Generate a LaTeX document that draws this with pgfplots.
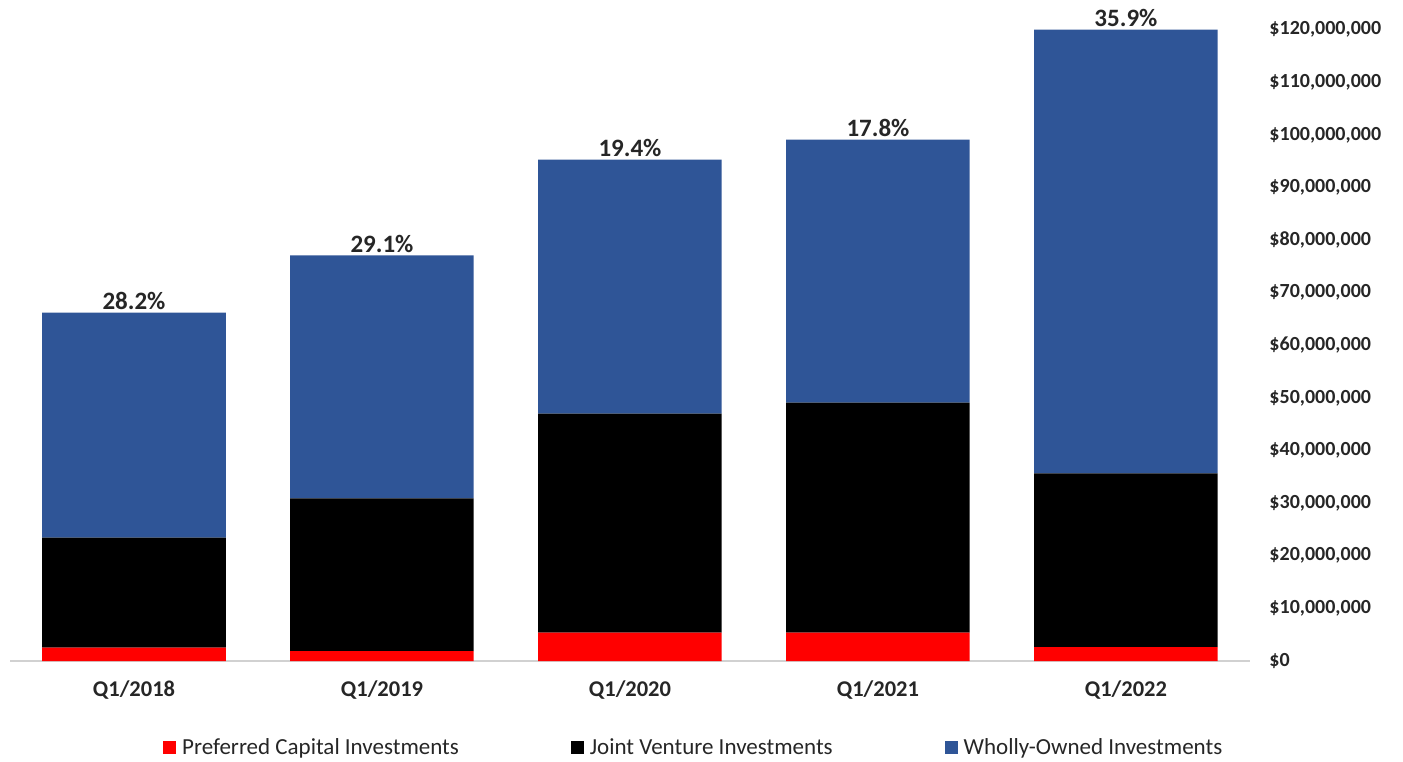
\documentclass[border=0pt]{standalone}
\usepackage{fontspec}
\setmainfont{Carlito}
\usepackage{pgfplots}
\pgfplotsset{compat=1.18}
\definecolor{wblue}{RGB}{47,85,151}
\definecolor{pred}{RGB}{255,0,0}
\begin{document}
\begin{tikzpicture}[x=1pt,y=1pt]
\path[use as bounding box] (0,0) rectangle (1403,761);
\begin{axis}[
  at={(10pt,100pt)}, anchor=south west,
  scale only axis, width=1240pt, height=631.4pt,
  xmin=-0.5, xmax=4.5, ymin=0, ymax=120000000,
  ybar stacked, bar width=0.74,
  xtick={0,1,2,3,4},
  xticklabels={Q1/2018,Q1/2019,Q1/2020,Q1/2021,Q1/2022},
  ytick={0,10000000,20000000,30000000,40000000,50000000,60000000,70000000,80000000,90000000,100000000,110000000,120000000},
  yticklabels={{\$0},{\$10,000,000},{\$20,000,000},{\$30,000,000},{\$40,000,000},{\$50,000,000},{\$60,000,000},{\$70,000,000},{\$80,000,000},{\$90,000,000},{\$100,000,000},{\$110,000,000},{\$120,000,000}},
  axis y line*=right, axis x line*=bottom,
  y axis line style={draw=none},
  x axis line style={draw=black!18, line width=1.3pt, -},
  major tick length=0pt,
  yticklabel style={anchor=west, xshift=16pt, font=\fontsize{20}{23}\selectfont\bfseries, text=black!85},
  xticklabel style={yshift=-16pt, font=\fontsize{22.5}{26}\selectfont\bfseries, text=black!85},
  scaled y ticks=false,
  clip=false,
  legend style={at={(axis description cs:0.1234,-0.1363)}, anchor=west, draw=none, fill=none,
    legend columns=-1, inner sep=0pt,
    font=\fontsize{23}{27}\selectfont, text=black!85,
    /tikz/every even column/.append style={column sep=110pt}},
  legend image code/.code={\fill[#1] (0pt,-6.5pt) rectangle (13pt,6.5pt); \path (17pt,0pt);},
]
\addplot[fill=pred, draw=none] coordinates {(0,2550000) (1,1900000) (2,5400000) (3,5400000) (4,2660000)};
\addlegendentry{Preferred Capital Investments}
\addplot[fill=black, draw=none] coordinates {(0,20900000) (1,29000000) (2,41600000) (3,43700000) (4,33000000)};
\addlegendentry{Joint Venture Investments}
\addplot[fill=wblue, draw=none] coordinates {(0,42750000) (1,46200000) (2,48300000) (3,50000000) (4,84340000)};
\addlegendentry{Wholly-Owned Investments}
\addplot[draw=none, fill=none, forget plot,
  point meta=explicit symbolic,
  nodes near coords,
  nodes near coords style={font=\fontsize{25}{29}\selectfont\bfseries, text=black!85, anchor=south, inner sep=2.5pt}]
  coordinates {(0,1) [28.2\%] (1,1) [29.1\%] (2,1) [19.4\%] (3,1) [17.8\%] (4,1) [35.9\%]};
\end{axis}
\end{tikzpicture}
\end{document}
